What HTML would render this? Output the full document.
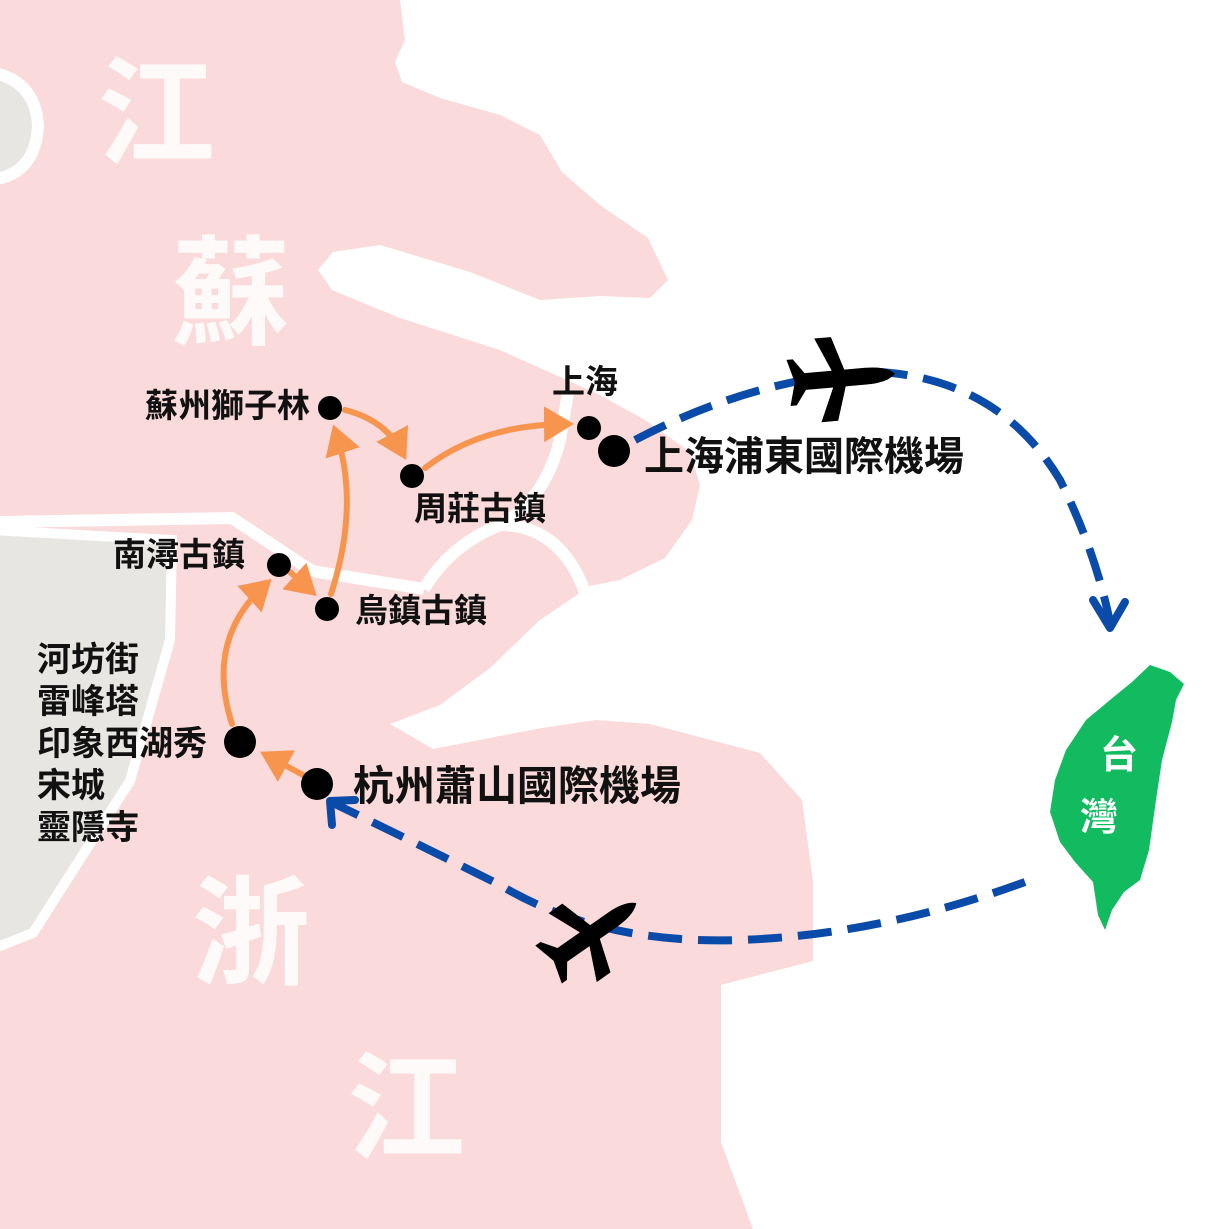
<!DOCTYPE html>
<html><head><meta charset="utf-8"><style>
html,body{margin:0;padding:0;background:#fff}
svg{display:block}
text{font-family:"Liberation Sans","Noto Sans CJK TC",sans-serif;font-weight:bold}
</style></head><body>
<svg width="1229" height="1229" viewBox="0 0 1229 1229" xmlns="http://www.w3.org/2000/svg">
<defs>
<marker id="oa" markerWidth="6" markerHeight="6" refX="3.5" refY="3" orient="auto" markerUnits="strokeWidth"><path d="M0,0 L5,3 L0,6 Z" fill="#f7954f"/></marker>
<g id="plane"><path d="M0,-8 L20,-8 Q40,-8 48,0 Q40,8 20,8 L0,8 L-10,40 L-26,40 L-12,8 L-38,8 L-48,22 L-54,22 L-48,0 L-54,-22 L-48,-22 L-38,-8 L-12,-8 L-26,-40 L-10,-40 Z" fill="#000"/></g>
</defs>
<path fill="#fadadb" d="M0,0 L400,0 L405,40 L395,62 L402,82 L440,98 L500,115 L540,135 L562,172 L600,205 L648,238 L668,280 L650,298 L600,296 L540,300 L470,272 L380,245 L333,252 L318,270 L332,290 L400,318 L500,350 L600,395 L645,420 L690,452 L700,485 L692,520 L665,558 L620,580 L590,586 L540,620 L490,668 L440,705 L390,724 L433,749 L542,728 L596,720 L650,724 L760,753 L802,800 L813,881 L813,961 L721,985 L721,1142 L753,1229 L0,1229 Z"/>
<path fill="none" stroke="#fff" stroke-width="12" d="M0,522 L232,518 L312,571 L424,589 M424,589 Q450,545 500,525 Q545,500 560,440 L568,393 M500,525 Q560,525 585,592"/>
<path fill="#e8e6e3" stroke="#fff" stroke-width="10" d="M-10,530 L172,540 L170,640 L130,781 L33,933 L-10,950 Z"/>
<path fill="#e8e6e3" stroke="#fff" stroke-width="12" d="M-10,72 Q35,80 38,125 Q36,175 -10,180 Z"/>
<g fill="#fff" fill-opacity="0.85" font-size="118">
<text x="97" y="155">江</text>
<text x="172" y="335">蘇</text>
<text x="192" y="975">浙</text>
<text x="347" y="1150">江</text>
</g>
<path fill="#12bb60" d="M1150,665 L1170,672 L1184,684 L1176,700 L1172,722 L1162,760 L1156,800 L1149,850 L1140,880 L1124,892 L1112,910 L1105,930 L1098,915 L1093,882 L1075,862 L1060,842 L1050,812 L1055,780 L1066,750 L1086,720 L1110,700 L1132,682 Z"/>
<text x="1100" y="768" fill="#fff" font-size="38">台</text>
<text x="1080" y="830" fill="#fff" font-size="38">灣</text>
<g fill="none" stroke="#0a4aa8" stroke-width="8">
<path stroke-dasharray="34,16" d="M635,440 Q760,375 880,372 Q1000,380 1060,480 Q1095,550 1110,622"/>
<path d="M1093,600 L1110,628 L1125,602" stroke-linecap="round" stroke-linejoin="round"/>
<path stroke-dasharray="34,16" d="M1025,882 Q880,935 740,940 Q600,945 500,885 Q420,845 333,803"/>
<path d="M332,825 L330,801 L355,800" stroke-linecap="round" stroke-linejoin="round"/>
</g>
<use href="#plane" transform="translate(845,378) rotate(-5) scale(1.05)"/>
<use href="#plane" transform="translate(595,932) rotate(-35) scale(1.05)"/>
<g fill="none" stroke="#f7954f" stroke-width="6" stroke-linecap="round">
<path marker-end="url(#oa)" d="M345,410 Q385,420 402,452"/>
<path marker-end="url(#oa)" d="M425,468 Q480,425 565,424"/>
<path marker-end="url(#oa)" d="M331,594 Q360,505 336,433"/>
<path marker-end="url(#oa)" d="M290,572 L310,590"/>
<path marker-end="url(#oa)" d="M232,724 Q205,640 265,585"/>
<path marker-end="url(#oa)" d="M303,775 L268,756"/>
</g>
<g fill="#000">
<circle cx="330" cy="408" r="12"/><circle cx="412" cy="476" r="12"/>
<circle cx="589" cy="428" r="12"/><circle cx="614" cy="451" r="16"/>
<circle cx="279" cy="565" r="12"/><circle cx="327" cy="609" r="12"/>
<circle cx="240" cy="742" r="16"/><circle cx="317" cy="784" r="16"/>
</g>
<g fill="#111" font-size="33">
<text x="310" y="417" text-anchor="end">蘇州獅子林</text>
<text x="414" y="520">周莊古鎮</text>
<text x="552" y="393">上海</text>
<text x="113" y="566">南潯古鎮</text>
<text x="355" y="622">烏鎮古鎮</text>
</g>
<g fill="#111" font-size="34">
<text x="37" y="671">河坊街</text>
<text x="37" y="713">雷峰塔</text>
<text x="37" y="755">印象西湖秀</text>
<text x="37" y="797">宋城</text>
<text x="37" y="839">靈隱寺</text>
</g>
<text x="644" y="470" fill="#111" font-size="40">上海浦東國際機場</text>
<text x="353" y="800" fill="#111" font-size="41">杭州蕭山國際機場</text>
</svg>
</body></html>
